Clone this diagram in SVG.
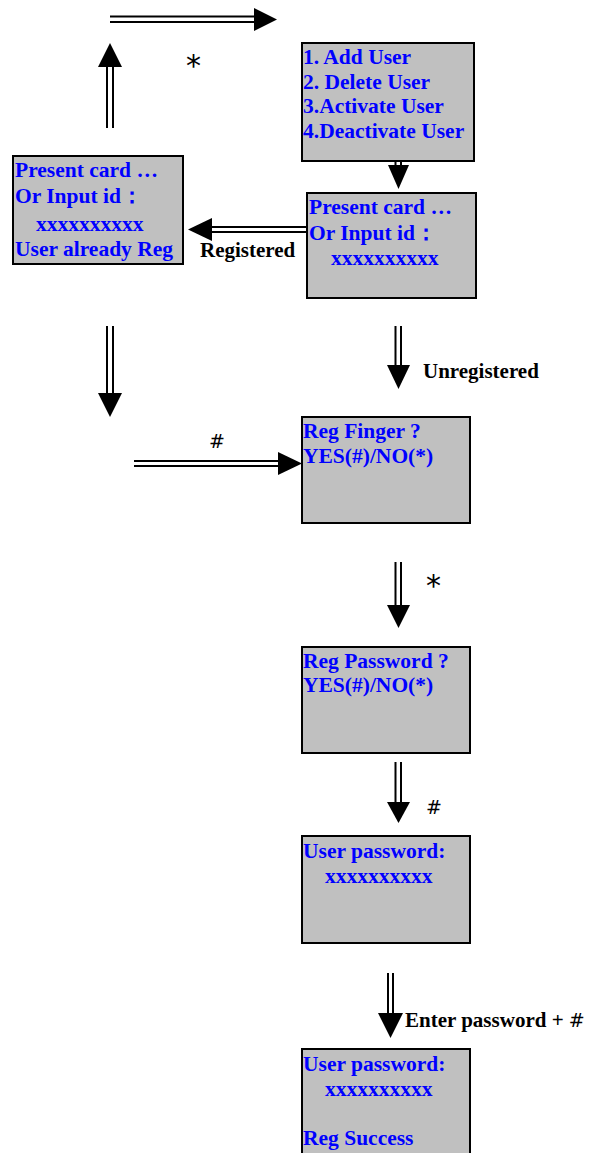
<svg xmlns="http://www.w3.org/2000/svg" width="592" height="1153" viewBox="0 0 592 1153">
<style>
.box{fill:#c0c0c0;stroke:#000;stroke-width:2}
.t{font-family:"Liberation Serif","Times New Roman",serif;font-weight:bold;font-size:21.5px;fill:#0000ff}
.lbl{font-family:"Liberation Serif","Times New Roman",serif;font-weight:bold;font-size:21px;fill:#000}
.sym{font-family:"DejaVu Sans",sans-serif;fill:#000}
.dl{fill:none;stroke:#000;stroke-width:2}
.ah{fill:#000}
</style>
<rect width="592" height="1153" fill="#fff"/>
<g id="connectors">
<path class="dl" d="M110,16.5 H256 M110,22 H256"/>
<polygon class="ah" points="254,8 277,19.5 254,31"/>
<path class="dl" d="M107,128 V65 M113,128 V65"/>
<polygon class="ah" points="98,67 110,43 122,67"/>
<path class="dl" d="M395.5,161 V167 M401,161 V167"/>
<polygon class="ah" points="388,165 398.5,189 409,165"/>
<path class="dl" d="M307,227 H210 M307,232 H210"/>
<polygon class="ah" points="212,218 188,229.5 212,241"/>
<path class="dl" d="M107,326 V395 M113,326 V395"/>
<polygon class="ah" points="98,393 110,417 122,393"/>
<path class="dl" d="M395.5,326 V367 M401,326 V367"/>
<polygon class="ah" points="387,365 398.5,389 410,365"/>
<path class="dl" d="M134,461 H280 M134,466 H280"/>
<polygon class="ah" points="278,452 302,463.5 278,475"/>
<path class="dl" d="M395.5,562 V607 M401,562 V607"/>
<polygon class="ah" points="387,605 398.5,628 410,605"/>
<path class="dl" d="M395.5,762 V804 M401,762 V804"/>
<polygon class="ah" points="387,802 398.5,823 410,802"/>
<path class="dl" d="M388,973 V1015 M393,973 V1015"/>
<polygon class="ah" points="378,1013 390.5,1038 403,1013"/>
<text class="sym" x="186" y="76" font-size="30">*</text>
<text class="lbl" x="200" y="257">Registered</text>
<text class="lbl" x="423" y="378">Unregistered</text>
<text class="sym" x="209" y="448" font-size="19">#</text>
<text class="sym" x="426" y="596" font-size="30">*</text>
<text class="sym" x="426" y="814" font-size="19">#</text>
<text class="lbl" x="405" y="1027">Enter password + <tspan class="sym" font-size="19" font-weight="normal">#</tspan></text>
</g>
<g id="menu">
<rect class="box" x="302" y="43" width="172" height="118"/>
<text class="t" x="303" y="64">1. Add User</text>
<text class="t" x="303" y="89">2. Delete User</text>
<text class="t" x="303" y="113">3.Activate User</text>
<text class="t" x="303" y="138">4.Deactivate User</text>
</g>
<g id="card-right">
<rect class="box" x="307" y="193" width="169" height="105"/>
<text class="t" x="309" y="214">Present card …</text>
<text class="t" x="309" y="240">Or Input id：</text>
<text class="t" x="331" y="265">xxxxxxxxxx</text>
</g>
<g id="card-left">
<rect class="box" x="13" y="156" width="170" height="108"/>
<text class="t" x="15" y="177">Present card …</text>
<text class="t" x="15" y="203">Or Input id：</text>
<text class="t" x="36" y="231">xxxxxxxxxx</text>
<text class="t" x="15" y="256">User already Reg</text>
</g>
<g id="reg-finger">
<rect class="box" x="302" y="417" width="168" height="106"/>
<text class="t" x="303" y="438">Reg Finger ?</text>
<text class="t" x="303" y="463">YES(#)/NO(*)</text>
</g>
<g id="reg-password">
<rect class="box" x="302" y="647" width="168" height="106"/>
<text class="t" x="303" y="668">Reg Password ?</text>
<text class="t" x="303" y="692">YES(#)/NO(*)</text>
</g>
<g id="user-password">
<rect class="box" x="302" y="836" width="168" height="107"/>
<text class="t" x="303" y="858">User password:</text>
<text class="t" x="325" y="883">xxxxxxxxxx</text>
</g>
<g id="reg-success">
<rect class="box" x="302" y="1049" width="168" height="115"/>
<text class="t" x="303" y="1071">User password:</text>
<text class="t" x="325" y="1096">xxxxxxxxxx</text>
<text class="t" x="303" y="1145">Reg Success</text>
</g>
</svg>
